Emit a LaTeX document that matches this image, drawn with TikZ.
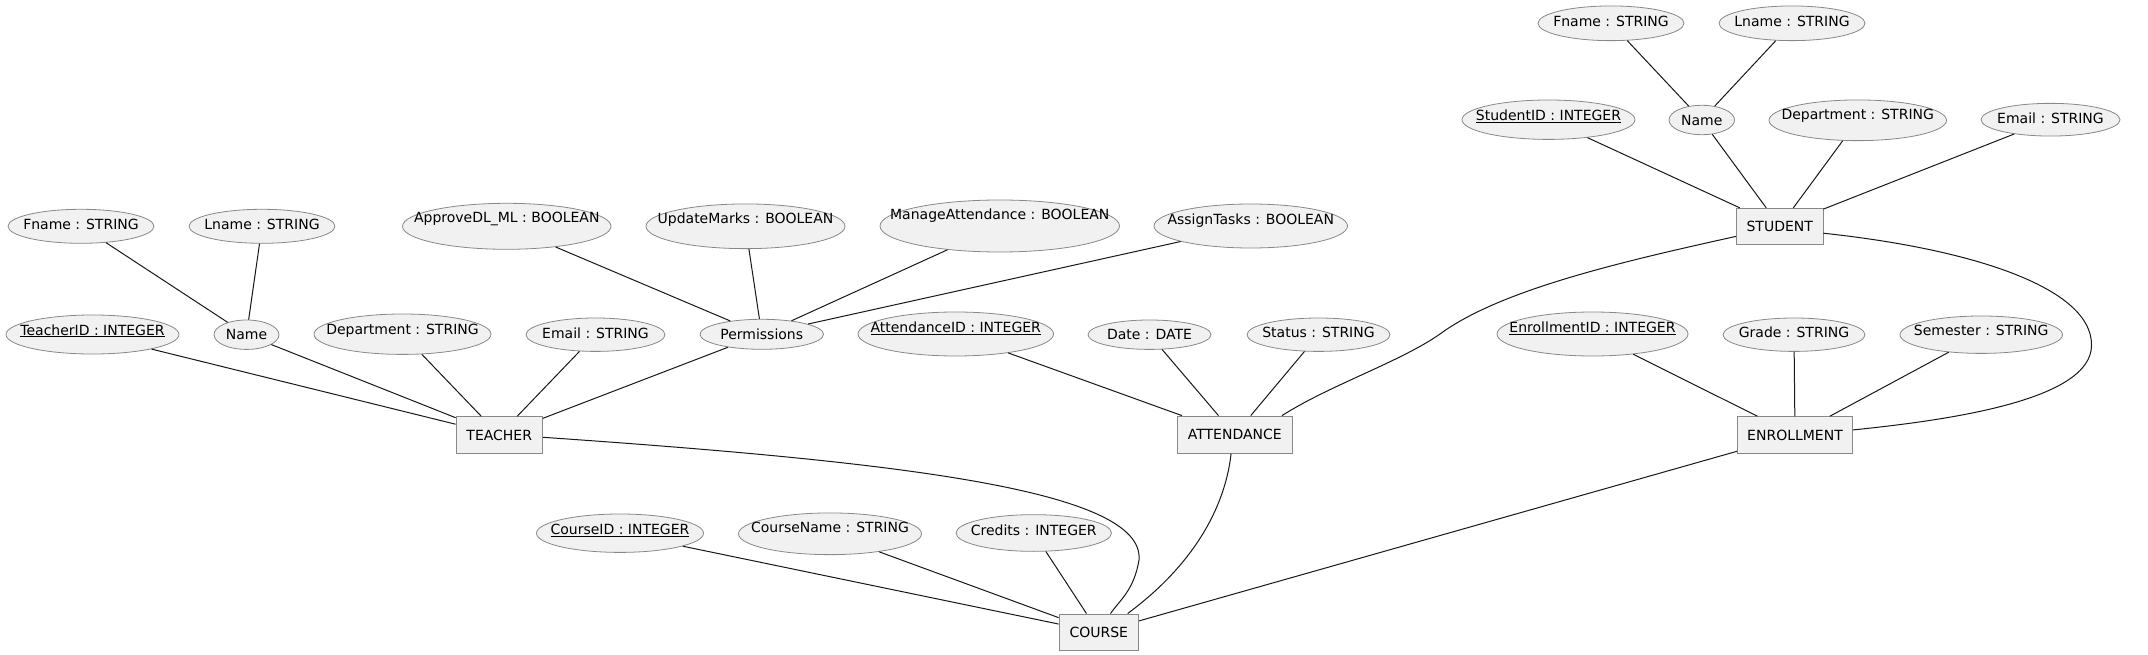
\documentclass[tikz,border=0pt]{standalone}
\usepackage{fontspec}
\setmainfont{DejaVu Sans}
\usetikzlibrary{shapes.geometric}
\newcommand\erfont{\fontsize{14pt}{16pt}\selectfont}
\newcommand\ulx[1]{\setbox0=\hbox{#1}\rlap{\rule[-2pt]{\wd0}{1pt}}\box0}
\definecolor{fillgray}{HTML}{F1F1F1}
\definecolor{bordergray}{HTML}{888888}
\definecolor{linecol}{HTML}{181818}
\tikzset{
  attr/.style={ellipse, draw=bordergray, fill=fillgray, line width=0.8pt, inner sep=0pt},
  ent/.style={rectangle, draw=bordergray, fill=fillgray, line width=0.8pt, inner sep=0pt},
  txt/.style={inner sep=0pt, text height=10.2pt, text depth=0pt, font=\erfont, text=black},
  conn/.style={draw=linecol, line width=1pt},
}
\begin{document}
\begin{tikzpicture}[x=1pt, y=-1pt]
\useasboundingbox (0,0) rectangle (2148,655);
\fill[white] (0,0) rectangle (2148,655);

% ---------- attributes: TEACHER ----------
\node[attr, minimum width=146pt, minimum height=34pt] (tfn) at (81,226.3) {};
\node[txt] (tfnT) at (81,224.3) {Fname : STRING};
\node[attr, minimum width=146pt, minimum height=34pt] (tln) at (262,226.3) {};
\node[txt] (tlnT) at (262,224.3) {Lname : STRING};
\node[attr, minimum width=173pt, minimum height=39pt] (tid) at (92.5,334.5) {};
\node[txt] (tidT) at (92.5,330) {\ulx{TeacherID : INTEGER}};
\node[attr, minimum width=65pt, minimum height=29.4pt] (tnm) at (246.5,334.7) {};
\node[txt] (tnmT) at (246.5,334.5) {Name};
\node[attr, minimum width=177pt, minimum height=40.4pt] (tdp) at (402.5,334.2) {};
\node[txt] (tdpT) at (402.5,329) {Department : STRING};
\node[attr, minimum width=139pt, minimum height=33.4pt] (tem) at (595.5,334.7) {};
\node[txt] (temT) at (595.5,333.3) {Email : STRING};

% ---------- permissions ----------
\node[attr, minimum width=208.5pt, minimum height=46pt] (apv) at (506.75,226.3) {};
\node[txt] (apvT) at (506.75,217.3) {ApproveDL\_ML : BOOLEAN};
\node[attr, minimum width=199pt, minimum height=44.7pt] (upd) at (745.5,226.3) {};
\node[txt] (updT) at (745.5,218.3) {UpdateMarks : BOOLEAN};
\node[attr, minimum width=239.5pt, minimum height=52pt] (mga) at (999.75,226) {};
\node[txt] (mgaT) at (999.75,214.3) {ManageAttendance : BOOLEAN};
\node[attr, minimum width=193.5pt, minimum height=44pt] (ast) at (1250.75,226) {};
\node[txt] (astT) at (1250.75,219.3) {AssignTasks : BOOLEAN};
\node[attr, minimum width=123.5pt, minimum height=30pt] (prm) at (761.75,334.3) {};
\node[txt] (prmT) at (761.75,334) {Permissions};

% ---------- attributes: ATTENDANCE ----------
\node[attr, minimum width=195.5pt, minimum height=44pt] (aid) at (955.75,334) {};
\node[txt] (aidT) at (955.75,327.5) {\ulx{AttendanceID : INTEGER}};
\node[attr, minimum width=123pt, minimum height=29.4pt] (dat) at (1149.5,334.7) {};
\node[txt] (datT) at (1149.5,334) {Date : DATE};
\node[attr, minimum width=143pt, minimum height=33.4pt] (sts) at (1318.5,334.7) {};
\node[txt] (stsT) at (1318.5,332.3) {Status : STRING};

% ---------- attributes: ENROLLMENT ----------
\node[attr, minimum width=191pt, minimum height=44pt] (eid) at (1592.5,334) {};
\node[txt] (eidT) at (1592.5,327.5) {\ulx{EnrollmentID : INTEGER}};
\node[attr, minimum width=142pt, minimum height=33.4pt] (grd) at (1794,334.7) {};
\node[txt] (grdT) at (1794,332.3) {Grade : STRING};
\node[attr, minimum width=162.5pt, minimum height=37.4pt] (sem) at (1981.25,334.7) {};
\node[txt] (semT) at (1981.25,330.3) {Semester : STRING};

% ---------- attributes: STUDENT ----------
\node[attr, minimum width=146pt, minimum height=34.7pt] (sfn) at (1611,23.3) {};
\node[txt] (sfnT) at (1611,21) {Fname : STRING};
\node[attr, minimum width=146pt, minimum height=34.7pt] (sln) at (1792,23.3) {};
\node[txt] (slnT) at (1792,21) {Lname : STRING};
\node[attr, minimum width=173pt, minimum height=39.4pt] (sid) at (1548.5,119.7) {};
\node[txt] (sidT) at (1548.5,115.5) {\ulx{StudentID : INTEGER}};
\node[attr, minimum width=65.5pt, minimum height=29.4pt] (snm) at (1701.75,120) {};
\node[txt] (snmT) at (1701.75,120) {Name};
\node[attr, minimum width=177.5pt, minimum height=40.7pt] (sdp) at (1857.75,120.3) {};
\node[txt] (sdpT) at (1857.75,114.5) {Department : STRING};
\node[attr, minimum width=139pt, minimum height=32.7pt] (sml) at (2050.5,119.7) {};
\node[txt] (smlT) at (2050.5,118) {Email : STRING};

% ---------- attributes: COURSE ----------
\node[attr, minimum width=167pt, minimum height=38.4pt] (cid) at (620,533.2) {};
\node[txt] (cidT) at (620,529.5) {\ulx{CourseID : INTEGER}};
\node[attr, minimum width=183pt, minimum height=41.7pt] (cnm) at (830,533.8) {};
\node[txt] (cnmT) at (830,527.3) {CourseName : STRING};
\node[attr, minimum width=155.5pt, minimum height=36.7pt] (crd) at (1033.75,533) {};
\node[txt] (crdT) at (1033.75,530) {Credits : INTEGER};

% ---------- entities ----------
\node[ent, minimum width=86.5pt, minimum height=36.7pt, font=\erfont] (teacher) at (499.25,435) {TEACHER};
\node[ent, minimum width=115.5pt, minimum height=37.3pt, font=\erfont] (attendance) at (1234.75,434.7) {ATTENDANCE};
\node[ent, minimum width=86.5pt, minimum height=36pt, font=\erfont] (student) at (1779.75,226.3) {STUDENT};
\node[ent, minimum width=115pt, minimum height=36.7pt, font=\erfont] (enrollment) at (1795,435) {ENROLLMENT};
\node[ent, minimum width=79.5pt, minimum height=36.7pt, font=\erfont] (course) at (1098.75,632.3) {COURSE};

% ---------- straight connectors ----------
\draw[conn] (tfn) -- (tnm);
\draw[conn] (tln) -- (tnm);
\draw[conn] (tid) -- (teacher);
\draw[conn] (tnm) -- (teacher);
\draw[conn] (tdp) -- (teacher);
\draw[conn] (tem) -- (teacher);
\draw[conn] (prm) -- (teacher);
\draw[conn] (apv) -- (prm);
\draw[conn] (upd) -- (prm);
\draw[conn] (mga) -- (prm);
\draw[conn] (ast) -- (prm);
\draw[conn] (aid) -- (attendance);
\draw[conn] (dat) -- (attendance);
\draw[conn] (sts) -- (attendance);
\draw[conn] (sfn) -- (snm);
\draw[conn] (sln) -- (snm);
\draw[conn] (sid) -- (student);
\draw[conn] (snm) -- (student);
\draw[conn] (sdp) -- (student);
\draw[conn] (sml) -- (student);
\draw[conn] (eid) -- (enrollment);
\draw[conn] (grd) -- (enrollment);
\draw[conn] (sem) -- (enrollment);
\draw[conn] (cid) -- (course);
\draw[conn] (cnm) -- (course);
\draw[conn] (crd) -- (course);
\draw[conn] (enrollment) -- (course);

% ---------- curved connectors ----------
\draw[conn] (student.193.5) .. controls (1620,262) and (1500,290) .. (1440,334)
  .. controls (1400,362) and (1330,385) .. (attendance.22.7);
\draw[conn] (teacher.-3) .. controls (900,462) and (1145,490) .. (1139,560)
  .. controls (1134,590) and (1120,600) .. (course.58.4);
\draw[conn] (attendance.-101.4) .. controls (1226,500) and (1200,560) .. (course.33.8);
\draw[conn] (student.-9.2) .. controls (1980,250) and (2092,290) .. (2091.5,345)
  .. controls (2092,400) and (1950,420) .. (enrollment.5);
\end{tikzpicture}
\end{document}
